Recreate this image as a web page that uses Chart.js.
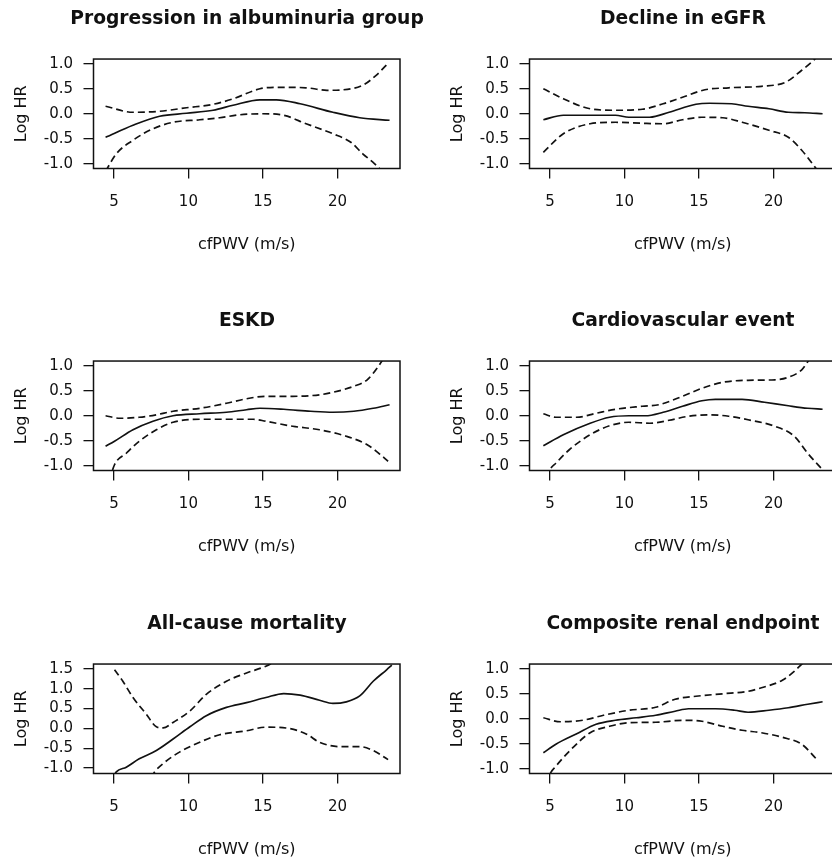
<!DOCTYPE html>
<html>
<head>
<meta charset="utf-8">
<script src="https://cdn.jsdelivr.net/npm/chart.js@4.4.1/dist/chart.umd.min.js"></script>
<style>
  html, body { margin: 0; padding: 0; background: #fff; width: 832px; height: 860px; overflow: hidden; position: relative; }
  canvas { position: absolute; }
</style>
</head>
<body>
<script>
// ---------- DATA ----------
const panelTitles = ["Progression in albuminuria group", "Decline in eGFR", "ESKD",
                     "Cardiovascular event", "All-cause mortality", "Composite renal endpoint"];
const xAxisLabel = "cfPWV (m/s)";
const yAxisLabel = "Log HR";
const xTicks = [5, 10, 15, 20];
const yTicksMain = [-1.0, -0.5, 0.0, 0.5, 1.0];
const yTicksMort = [-1.0, -0.5, 0.0, 0.5, 1.0, 1.5];

// Progression in albuminuria group
const albFit   = [[4.44,-0.47],[6.28,-0.23],[8.07,-0.05],[9.87,0.01],[11.66,0.07],[13.0,0.17],[14.8,0.28],[15.9,0.28],[17.5,0.2],[19.7,0.03],[21.5,-0.08],[23.5,-0.13]];
const albUpper = [[4.44,0.15],[6.28,0.03],[8.07,0.05],[9.87,0.12],[11.66,0.19],[13.0,0.3],[14.8,0.5],[15.9,0.53],[17.9,0.52],[19.3,0.47],[20.4,0.48],[21.7,0.57],[22.6,0.77],[23.4,1.01]];
const albLower = [[4.44,-1.15],[5.16,-0.8],[6.28,-0.53],[7.62,-0.3],[8.97,-0.17],[10.76,-0.12],[12.1,-0.08],[13.45,-0.02],[15.0,0.0],[16.4,-0.03],[17.9,-0.2],[19.7,-0.4],[20.9,-0.57],[21.7,-0.8],[22.5,-1.0],[22.9,-1.12]];

// Decline in eGFR
const egfrFit   = [[4.56,-0.12],[5.9,-0.03],[8.1,-0.03],[9.4,-0.03],[10.3,-0.07],[11.7,-0.07],[13.0,0.03],[14.8,0.19],[15.7,0.21],[17.2,0.2],[18.3,0.15],[19.7,0.1],[21.0,0.03],[22.1,0.02],[23.3,0.0]];
const egfrUpper = [[4.56,0.5],[5.9,0.3],[7.7,0.1],[9.4,0.07],[11.2,0.09],[12.6,0.2],[13.9,0.33],[15.4,0.48],[17.0,0.52],[19.2,0.55],[20.8,0.63],[21.9,0.87],[22.7,1.07],[23.0,1.17]];
const egfrLower = [[4.56,-0.77],[5.9,-0.4],[7.7,-0.2],[9.4,-0.17],[11.2,-0.19],[12.6,-0.2],[13.9,-0.12],[15.2,-0.07],[16.6,-0.08],[17.9,-0.17],[19.7,-0.33],[21.0,-0.47],[21.9,-0.73],[22.7,-1.03],[23.0,-1.15]];

// ESKD
const eskdFit   = [[4.44,-0.61],[5.04,-0.51],[6.28,-0.28],[7.62,-0.11],[8.97,0.0],[10.76,0.04],[12.55,0.07],[13.9,0.12],[14.8,0.15],[16.4,0.13],[18.2,0.09],[19.7,0.07],[21.1,0.09],[22.4,0.15],[23.5,0.22]];
const eskdUpper = [[4.44,0.0],[5.4,-0.05],[6.7,-0.03],[7.85,0.02],[8.97,0.09],[10.76,0.15],[12.55,0.25],[13.9,0.34],[15.2,0.39],[17.0,0.39],[18.8,0.42],[19.7,0.47],[21.1,0.59],[22.0,0.72],[22.75,0.99],[23.1,1.15]];
const eskdLower = [[4.7,-1.3],[5.04,-0.98],[5.83,-0.75],[6.7,-0.51],[7.85,-0.28],[8.97,-0.13],[10.76,-0.07],[12.55,-0.07],[14.35,-0.07],[15.2,-0.11],[17.0,-0.21],[18.8,-0.28],[20.6,-0.41],[22.0,-0.58],[22.9,-0.78],[23.4,-0.91]];

// Cardiovascular event
const cvFit   = [[4.56,-0.6],[5.9,-0.38],[7.7,-0.15],[9.0,-0.03],[10.3,0.0],[11.4,0.0],[12.6,0.07],[13.9,0.19],[15.2,0.3],[16.1,0.33],[17.9,0.33],[19.4,0.27],[21.0,0.2],[22.3,0.15],[23.3,0.13]];
const cvUpper = [[4.56,0.04],[5.4,-0.03],[6.8,-0.03],[8.1,0.05],[9.4,0.13],[11.2,0.19],[12.3,0.22],[13.9,0.39],[15.2,0.55],[16.6,0.67],[18.3,0.71],[20.1,0.72],[21.0,0.77],[21.9,0.92],[22.4,1.12]];
const cvLower = [[4.8,-1.25],[5.0,-1.08],[5.4,-0.95],[6.3,-0.68],[7.7,-0.38],[9.0,-0.2],[10.3,-0.13],[11.7,-0.15],[13.0,-0.09],[14.3,-0.01],[15.7,0.02],[17.0,-0.01],[18.3,-0.08],[20.1,-0.21],[21.4,-0.41],[22.3,-0.75],[23.3,-1.08]];

// All-cause mortality
const mortFit   = [[5.0,-1.2],[5.16,-1.1],[5.83,-0.98],[6.7,-0.77],[7.85,-0.56],[8.97,-0.27],[10.1,0.04],[11.2,0.32],[12.55,0.53],[13.9,0.65],[15.2,0.78],[16.4,0.88],[17.5,0.84],[18.8,0.71],[19.7,0.63],[20.6,0.67],[21.5,0.82],[22.4,1.19],[23.3,1.48],[23.65,1.6]];
const mortUpper = [[5.04,1.48],[5.6,1.19],[6.28,0.78],[7.17,0.36],[7.85,0.04],[8.3,0.01],[8.97,0.15],[10.1,0.44],[11.2,0.86],[12.55,1.19],[13.9,1.4],[15.2,1.57],[15.9,1.7]];
const mortLower = [[7.5,-1.25],[7.73,-1.1],[8.3,-0.89],[9.4,-0.6],[10.76,-0.35],[12.1,-0.16],[13.9,-0.06],[15.2,0.03],[16.55,0.01],[17.9,-0.14],[18.8,-0.35],[20.15,-0.46],[21.5,-0.46],[22.4,-0.56],[23.4,-0.79]];

// Composite renal endpoint
const compFit   = [[4.56,-0.68],[5.4,-0.51],[6.8,-0.3],[8.1,-0.11],[9.4,-0.03],[10.8,0.02],[12.1,0.07],[13.4,0.15],[14.3,0.2],[16.1,0.2],[17.4,0.17],[18.3,0.13],[19.7,0.17],[21.0,0.22],[22.3,0.29],[23.3,0.34]];
const compUpper = [[4.56,0.02],[5.7,-0.06],[7.2,-0.03],[8.6,0.07],[10.3,0.17],[12.1,0.23],[13.4,0.39],[14.8,0.45],[16.6,0.5],[18.3,0.55],[19.2,0.62],[20.6,0.77],[21.4,0.95],[22.0,1.12]];
const compLower = [[4.8,-1.3],[5.0,-1.11],[5.4,-0.95],[6.3,-0.65],[7.7,-0.28],[9.0,-0.15],[10.3,-0.08],[12.1,-0.07],[13.9,-0.03],[15.2,-0.05],[16.6,-0.15],[17.9,-0.23],[19.2,-0.28],[20.6,-0.37],[21.9,-0.51],[22.9,-0.81]];

// ---------- LAYOUT ----------
const FONT = "'DejaVu Sans', 'Liberation Sans', Arial, sans-serif";
const CW = 494, CH = 290;
const colX = [0, 436];
const rowY = [0, 302, 605];

const panels = [
  { title: panelTitles[0], fit: albFit,  upper: albUpper,  lower: albLower,  yMin: -1.095, yMax: 1.095, yTicks: yTicksMain },
  { title: panelTitles[1], fit: egfrFit, upper: egfrUpper, lower: egfrLower, yMin: -1.095, yMax: 1.095, yTicks: yTicksMain },
  { title: panelTitles[2], fit: eskdFit, upper: eskdUpper, lower: eskdLower, yMin: -1.095, yMax: 1.095, yTicks: yTicksMain },
  { title: panelTitles[3], fit: cvFit,   upper: cvUpper,   lower: cvLower,   yMin: -1.095, yMax: 1.095, yTicks: yTicksMain },
  { title: panelTitles[4], fit: mortFit, upper: mortUpper, lower: mortLower, yMin: -1.14,  yMax: 1.625, yTicks: yTicksMort },
  { title: panelTitles[5], fit: compFit, upper: compUpper, lower: compLower, yMin: -1.095, yMax: 1.095, yTicks: yTicksMain }
];

const boxPlugin = {
  id: 'box',
  afterDatasetsDraw(chart) {
    const a = chart.chartArea, ctx = chart.ctx;
    ctx.save();
    ctx.strokeStyle = '#111';
    ctx.lineWidth = 1.5;
    ctx.strokeRect(a.left, a.top, a.right - a.left, a.bottom - a.top);
    ctx.restore();
  }
};

const toPts = arr => arr.map(p => ({ x: p[0], y: p[1] }));

panels.forEach((p, i) => {
  const cv = document.createElement('canvas');
  cv.width = CW; cv.height = CH;
  cv.style.width = CW + 'px'; cv.style.height = CH + 'px';
  cv.style.left = colX[i % 2] + 'px';
  cv.style.top = rowY[Math.floor(i / 2)] + 'px';
  document.body.appendChild(cv);

  const lineDs = (data, dashed) => ({
    data: toPts(data),
    borderColor: '#111',
    borderWidth: 1.7,
    borderDash: dashed ? [7, 4] : [],
    pointRadius: 0,
    fill: false,
    cubicInterpolationMode: 'monotone'
  });

  new Chart(cv, {
    type: 'line',
    data: { datasets: [lineDs(p.fit, false), lineDs(p.upper, true), lineDs(p.lower, true)] },
    options: {
      responsive: false,
      animation: false,
      devicePixelRatio: 1,
      layout: { padding: 0 },
      plugins: {
        legend: { display: false },
        tooltip: { enabled: false },
        title: {
          display: true,
          text: p.title,
          color: '#111',
          font: { family: FONT, size: 18.7, weight: 'bold', lineHeight: 1.2 },
          padding: { top: 8, bottom: 28.6 }
        }
      },
      scales: {
        x: {
          type: 'linear',
          position: 'bottom',
          min: 3.63, max: 24.2,
          afterBuildTicks: s => { s.ticks = xTicks.map(v => ({ value: v })); },
          afterFit: s => { s.height = 121.5; },
          grid: { display: true, drawOnChartArea: false, drawTicks: true, tickLength: 10, color: '#111', lineWidth: 1.3 },
          border: { display: false },
          ticks: { color: '#111', font: { family: FONT, size: 15 }, padding: 15, maxRotation: 0, autoSkip: false },
          title: { display: true, text: xAxisLabel, color: '#111', font: { family: FONT, size: 16 }, padding: { top: 0, bottom: 35.4 } }
        },
        y: {
          type: 'linear',
          position: 'left',
          min: p.yMin, max: p.yMax,
          afterBuildTicks: s => { s.ticks = p.yTicks.map(v => ({ value: v })); },
          afterFit: s => { s.width = 93.5; },
          grid: { display: true, drawOnChartArea: false, drawTicks: true, tickLength: 10, color: '#111', lineWidth: 1.3 },
          border: { display: false },
          ticks: { color: '#111', font: { family: FONT, size: 15 }, padding: 10.5, autoSkip: false,
                   callback: v => Number(v).toFixed(1) },
          title: { display: true, text: yAxisLabel, color: '#111', font: { family: FONT, size: 16 }, padding: { top: 12, bottom: 0 } }
        },
        // empty right-hand spacer so the panel title is centred over the plot box
        yRight: {
          type: 'linear',
          position: 'right',
          min: p.yMin, max: p.yMax,
          afterFit: s => { s.width = 94; },
          grid: { display: false },
          border: { display: false },
          ticks: { display: false },
          title: { display: false }
        }
      }
    },
    plugins: [boxPlugin]
  });
});
</script>
</body>
</html>
